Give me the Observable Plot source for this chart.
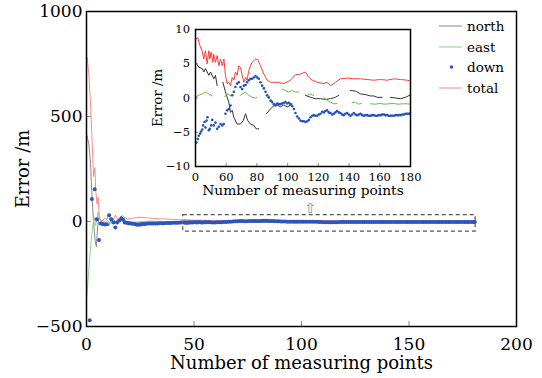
<!DOCTYPE html>
<html><head><meta charset="utf-8">
<script src="https://cdn.jsdelivr.net/npm/d3@7"></script>
<script src="https://cdn.jsdelivr.net/npm/@observablehq/plot@0.6"></script>
<style>
body{margin:0;background:#fff;}
#wrap{position:relative;width:542px;height:378px;font-family:"DejaVu Serif",serif;overflow:hidden;}
#wrap svg{position:absolute;overflow:visible;}
#legend{position:absolute;left:439px;top:16px;font-size:13.5px;color:#000;}
#legend .row{display:flex;align-items:center;height:20.5px;}
#legend .row svg{position:static;margin-right:5px;}
</style></head><body><div id="wrap"><div id="legend"></div></div>
<script>
// ---------- tick labels ----------
const mainXTicks = [0, 50, 100, 150, 200];
const mainYTicks = [-500, 0, 500, 1000];
const insetXTicks = [0, 20, 40, 60, 80, 100, 120, 140];
const insetXLabels = ["0", "60", "80", "100", "120", "140", "160", "180"];
const insetYTicks = [-10, -5, 0, 5, 10];
const seriesNames = ["north", "east", "down", "total"];

// zoomed window (main-chart coordinates) shown in the inset
const zoomBox = {x1: 45, x2: 181, y1: -48, y2: 30};
const zoomArrow = {x: 104, y: 60};

// ---------- inset series (inset x units, metres) ----------
const insetTotal = [[0,8.6],[1.5,8.8],[2.8,7.7],[4.3,6.9],[5.4,5.7],[6.5,6.9],[7.6,5.0],[8.7,6.9],[9.3,5.7],[10.2,6.7],[11.3,5.2],[11.9,6.4],[13.0,5.2],[14.1,6.2],[15.2,4.7],[16.3,5.7],[17.4,4.7],[18.5,5.7],[19.5,3.3],[20.6,2.1],[21.7,2.3],[22.8,1.8],[23.9,3.0],[25,2.6],[26,3.8],[27.1,3.3],[28.2,4.7],[29.3,4.5],[30.4,3.3],[31.5,2.3],[32.6,3.0],[33.6,2.6],[34.7,4.0],[35.8,4.7],[36.9,5.2],[39.1,5.7],[40.6,5.6],[42.3,4.7],[44.5,3.5],[46.7,2.6],[48.8,2.3],[53.2,2.3],[57.5,2.1],[61.9,2.6],[65.1,3.4],[68.4,3.5],[71.6,3.8],[73.8,3.0],[76,2.6],[79.2,2.3],[83.6,2.1],[85.7,2.3],[87.9,1.8],[91.2,2.3],[94.4,2.8],[98.8,2.9],[103.1,2.8],[107.4,2.8],[111.8,2.7],[116.1,2.6],[120.5,2.7],[124.8,2.6],[129.1,2.8],[133.5,2.7],[137.8,2.6],[139.6,2.5]];

const insetNorth = [
  [[0,5.2],[2.1,4.5],[4.4,4.3],[5.4,3.8],[6.5,4.3],[8.7,3.3],[9.8,3.8],[11.9,2.8],[13,3.3],[14.1,1.8]],
  [[17.8,2.3],[19.5,0.9],[20.6,0.1],[21.7,-0.6],[22.8,-2.1],[23.9,-1.8],[24.9,-2.8],[27.1,-3.8],[29.3,-3.8],[31.1,-3.3],[32.6,-2.3],[34,-3.3],[35.8,-3.8],[38,-4.0],[39.5,-4.5],[41.2,-4.5]],
  [[46.2,-2.3],[48.8,-1.6],[52.1,-0.9],[55.3,-1.3],[57.5,-1.0],[59.7,-1.3],[63,-0.9]],
  [[71.6,0.4],[74.9,0.1],[78.1,-0.1],[81.4,-0.1],[84.6,-0.2],[87.9,-0.1],[91.1,0.1],[93.3,0.4]],
  [[100.9,1.1],[104.2,1.0],[107.4,0.6],[110.7,0.5],[113.9,0.3],[116.1,0.3],[118.3,0.1],[121.5,0.1]],
  [[127,0.1],[130.2,0],[133.5,-0.1],[136.7,0.1],[139.5,0.4]]
];

const insetEast = [
  [[0,0.1],[2.1,0.4],[4.4,0.6],[6.5,0.85],[8.7,0.6],[10.9,0.3]],
  [[19.0,0.2],[21,0.6],[23,0.3]],
  [[29.3,0.4],[30.4,0.6],[32.6,0.85],[34.7,0.4],[36.9,0.1],[39.1,0],[40.2,0.1]],
  [[45.6,0.4],[47,0.1],[48.8,-0.2],[50,-0.4]],
  [[56.4,1.3],[58.6,1.1],[60.7,0.85],[63,1.1],[65.1,0.85],[67.3,0.9]],
  [[72.7,0.36],[74.9,0.6],[77,0.36]],
  [[83.5,0.1],[85.7,-0.36],[87.9,-0.6],[90,-0.85],[92,-0.8]],
  [[102,-0.7],[104,-0.6],[106,-0.9],[108,-0.8]],
  [[114,-0.85],[117,-0.9],[120,-0.8],[123,-0.9],[126,-0.85],[129,-0.8],[132,-0.9],[135,-0.85],[138,-0.85],[140,-0.9]]
];

const insetDown = [[0.6,-6.5],[1.5,-6.0],[2.1,-5.5],[3.0,-5.2],[3.6,-4.9],[4.4,-4.6],[5.0,-4.0],[5.9,-3.5],[6.5,-4.3],[7.2,-3.3],[7.8,-2.8],[8.7,-4.7],[9.3,-4.5],[10.2,-4.0],[10.9,-3.2],[11.9,-4.0],[13.0,-3.6],[14.1,-4.5],[15.2,-4.2],[16.3,-3.8],[17.4,-4.0],[18.4,-3.8],[19.5,-2.3],[20.6,-1.8],[21.7,-1.6],[22.8,-1.1],[23.9,0.4],[25.0,0.9],[26.0,1.6],[27.1,2.1],[28.2,2.3],[29.3,1.6],[30.4,1.3],[31.5,1.8],[32.6,1.9],[33.6,2.3],[34.7,2.6],[35.8,2.8],[36.9,2.8],[38.0,3.0],[39.1,3.2],[40.2,3.0],[41.2,2.8],[42.3,2.3],[43.4,1.8],[44.5,1.4],[45.6,0.9],[46.7,0.4],[47.7,0.1],[48.8,-0.4],[49.9,-0.6],[51.0,-0.9],[52.1,-1.1],[53.2,-0.8],[54.2,-0.9],[55.3,-0.9],[56.4,-0.8],[57.5,-0.7],[58.6,-0.6],[59.7,-0.8],[60.8,-0.7],[61.9,-0.9],[63.0,-1.2],[64.1,-1.6],[65.1,-2.2],[66.2,-2.7],[67.3,-3.0],[68.4,-3.3],[69.5,-3.4],[70.5,-3.4],[71.6,-3.5],[72.7,-3.4],[73.8,-3.2],[74.9,-2.8],[76.0,-2.6],[77.0,-2.5],[78.1,-2.6],[79.2,-2.6],[80.3,-2.4],[81.4,-2.3],[82.5,-2.0],[83.5,-2.1],[84.6,-1.9],[85.7,-1.8],[86.8,-2.1],[87.9,-2.2],[89.0,-2.4],[90.0,-2.3],[91.1,-2.1],[92.2,-1.9],[93.3,-2.1],[94.4,-2.2],[95.5,-2.4],[96.5,-2.5],[97.6,-2.3],[98.7,-2.2],[99.8,-2.4],[100.9,-2.6],[102.0,-2.4],[103.1,-2.2],[104.2,-2.4],[105.3,-2.5],[106.4,-2.4],[107.4,-2.3],[108.5,-2.5],[109.6,-2.6],[110.7,-2.5],[111.8,-2.5],[112.9,-2.6],[114.0,-2.6],[115.0,-2.5],[116.1,-2.5],[117.2,-2.6],[118.3,-2.6],[119.4,-2.5],[120.5,-2.5],[121.6,-2.4],[122.6,-2.4],[123.7,-2.5],[124.8,-2.5],[125.9,-2.6],[127.0,-2.6],[128.0,-2.6],[129.1,-2.6],[130.2,-2.5],[131.3,-2.5],[132.4,-2.5],[133.5,-2.5],[134.6,-2.4],[135.7,-2.4],[136.7,-2.3],[137.8,-2.3],[138.9,-2.3],[139.6,-2.3]];

// ---------- main-chart early points (before the zoomed window) ----------
const mainTotalEarly = [[0.3,781],[1.1,700],[1.9,555],[2.6,384],[3.1,257],[3.3,215],[3.9,257],[4.3,146],[4.9,83],[5.4,114],[6.0,19],[6.5,0],[7.5,5],[8.5,15],[9.5,10],[10.4,35],[11.2,5],[12.5,12],[13.5,30],[14.5,10],[15.5,15],[16.6,30],[17.5,20],[19,12],[21,15],[23,18],[25,20],[28,18],[31,15],[34,12],[37,12],[40,10],[43,8]];
const mainNorthEarly = [[0,416],[1.1,369],[1.9,273],[2.4,150],[3.2,10],[4.0,-90],[4.6,-120],[5.2,-20],[5.8,20],[6.5,5],[7.5,-5],[8.5,0],[9.5,-15],[10.4,-20],[11.2,0],[12,15],[13,5],[14,-10],[15,0],[16,10],[17,15],[18,5],[19,-5],[20,0],[22,-8],[25,-5],[30,-3],[35,-2],[40,0],[44,0]];
const mainEastEarly = [[0,-370],[0.5,-310],[1.0,-240],[1.5,-170],[2.0,-110],[2.5,-60],[3.0,-10],[3.7,19],[4.2,-20],[4.8,10],[5.4,45],[6,15],[7,5],[8,5],[9,-5],[10,5],[11,-10],[12,5],[13,0],[15,5],[18,0],[22,-3],[26,0],[30,2],[35,0],[40,0],[44,1]];
const mainDownEarly = [[1.5,-470],[2.5,107],[3.8,154],[4.8,11],[5.8,-88],[6.5,-10],[7.5,-12],[8.5,-14],[9.5,-13],[10.5,30],[11.5,11],[12.5,-5],[13.4,-28],[14.2,-5],[15.3,5],[16.2,16],[17.1,8],[17.8,-5],[18.7,-6],[19.6,-8],[20.6,-10],[21.5,-11],[22.4,-12],[23.4,-15],[24.3,-16],[25.2,-14],[26.2,-12],[27.1,-12],[28,-11],[29,-10],[30,-10],[31,-10],[32,-9],[33,-9],[34,-8],[35,-8],[36,-8],[37,-7],[38,-7],[39,-7],[40,-6],[41,-6],[42,-6],[43,-6],[44,-5]];

// ---------- build tables ----------
const fmt = d => d < 0 ? "\u2212" + Math.abs(d) : String(d);
const toMainX = ix => zoomBox.x1 + ix * (zoomBox.x2 - zoomBox.x1) / 140;
const rows = pts => pts.map(([x, y]) => ({x, y}));
const segRows = segs => segs.flatMap((s, i) => s.map(([x, y]) => ({x, y, seg: i})));
const mainRows = (early, inset) => rows(early).concat(inset.map(([x, y]) => ({x: toMainX(x), y})));

const mainTotal = mainRows(mainTotalEarly, insetTotal);
const mainNorth = mainRows(mainNorthEarly, insetNorth.flat());
const mainEast = mainRows(mainEastEarly, insetEast.flat());
const mainDown = mainRows(mainDownEarly, insetDown);

const FONT = "DejaVu Serif";
const wrap = document.getElementById("wrap");

const mainPlot = Plot.plot({
  width: 542, height: 378,
  marginLeft: 86, marginRight: 26, marginTop: 11, marginBottom: 52,
  x: {domain: [0, 200]},
  y: {domain: [-500, 1000]},
  style: {fontFamily: FONT, fontSize: "17px", color: "#000", background: "transparent"},
  marks: [
    Plot.rect([zoomBox], {x1: "x1", x2: "x2", y1: "y1", y2: "y2", fill: "none", stroke: "#555", strokeWidth: 1.2, strokeDasharray: "4,3"}),
    Plot.line(mainNorth, {x: "x", y: "y", stroke: "#8a8a8a", strokeWidth: 1}),
    Plot.line(mainEast, {x: "x", y: "y", stroke: "#8fd48f", strokeWidth: 1}),
    Plot.line(mainTotal, {x: "x", y: "y", stroke: "#ff8a8a", strokeWidth: 1}),
    Plot.dot(mainDown, {x: "x", y: "y", r: 2, fill: "#2a55c0", stroke: "none"}),
    Plot.text([zoomArrow], {x: "x", y: "y", text: () => "\u21E7", fontFamily: "DejaVu Sans", fontSize: 14, fill: "#888"}),
    Plot.axisY({ticks: mainYTicks, tickSize: 0, tickPadding: 4, tickFormat: fmt, label: null, fontSize: 17}),
    Plot.axisY({ticks: mainYTicks, tickSize: -5, tickFormat: () => "", label: null, stroke: "#888"}),
    Plot.axisX({ticks: mainXTicks, tickSize: 0, tickPadding: 11, tickFormat: fmt, label: null, fontSize: 17}),
    Plot.axisX({ticks: mainXTicks, tickSize: -5, tickFormat: () => "", label: null, stroke: "#888"}),
    Plot.frame({stroke: "#000", strokeWidth: 1.5}),
    Plot.text(["Error /m"], {frameAnchor: "left", text: d => d, rotate: -90, dx: -63, textAnchor: "middle", lineAnchor: "middle", fontSize: 18}),
    Plot.text(["Number of measuring points"], {frameAnchor: "bottom", text: d => d, dy: 37, textAnchor: "middle", lineAnchor: "middle", fontSize: 18})
  ]
});
mainPlot.style.left = "0px"; mainPlot.style.top = "0px";
wrap.appendChild(mainPlot);

const insetPlot = Plot.plot({
  width: 280, height: 185,
  marginLeft: 55, marginRight: 10, marginTop: 9, marginBottom: 39,
  x: {domain: [0, 140]},
  y: {domain: [-10, 10]},
  style: {fontFamily: FONT, fontSize: "11.5px", color: "#000", background: "transparent"},
  marks: [
    Plot.line(insetTotal, {x: d => d[0], y: d => d[1], stroke: "#ff3b3b", strokeWidth: 1}),
    Plot.line(segRows(insetNorth), {x: "x", y: "y", z: "seg", stroke: "#333", strokeWidth: 1}),
    Plot.line(segRows(insetEast), {x: "x", y: "y", z: "seg", stroke: "#5cbf4a", strokeWidth: 1}),
    Plot.dot(insetDown, {x: d => d[0], y: d => d[1], r: 1.3, fill: "#2350c0", stroke: "none"}),
    Plot.axisY({ticks: insetYTicks, tickSize: 0, tickPadding: 5.5, tickFormat: fmt, label: null}),
    Plot.axisY({ticks: insetYTicks, tickSize: -3, tickFormat: () => "", label: null, stroke: "#888"}),
    Plot.axisX({ticks: insetXTicks, tickSize: 0, tickPadding: 6, tickFormat: d => insetXLabels[insetXTicks.indexOf(d)], label: null}),
    Plot.axisX({ticks: insetXTicks, tickSize: -3, tickFormat: () => "", label: null, stroke: "#888"}),
    Plot.frame({stroke: "#000", strokeWidth: 1.5}),
    Plot.text(["Error /m"], {frameAnchor: "left", text: d => d, rotate: -90, dx: -38, textAnchor: "middle", lineAnchor: "middle", fontSize: 13.3}),
    Plot.text(["Number of measuring points"], {frameAnchor: "bottom", text: d => d, dy: 24.5, textAnchor: "middle", lineAnchor: "middle", fontSize: 13.8})
  ]
});
insetPlot.style.left = "140px"; insetPlot.style.top = "20px";
wrap.appendChild(insetPlot);

// ---------- legend ----------
const legendStyle = {
  north: {type: "line", color: "#9a9a9a"},
  east: {type: "line", color: "#9ad99a"},
  down: {type: "dot", color: "#2a55c0"},
  total: {type: "line", color: "#ff9a9a"}
};
const legend = document.getElementById("legend");
for (const name of seriesNames) {
  const s = legendStyle[name];
  const row = document.createElement("div");
  row.className = "row";
  const sw = s.type === "line"
    ? `<svg width="23" height="10"><line x1="0" x2="23" y1="5" y2="5" stroke="${s.color}" stroke-width="1.2"/></svg>`
    : `<svg width="23" height="10"><circle cx="12.5" cy="5" r="1.8" fill="${s.color}"/></svg>`;
  row.innerHTML = sw + `<span>${name}</span>`;
  legend.appendChild(row);
}
</script>
</body></html>
